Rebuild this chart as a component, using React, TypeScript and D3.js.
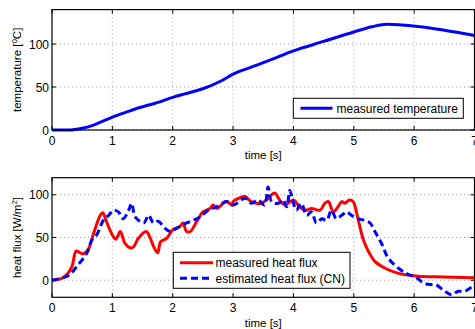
import React, { useEffect, useRef } from "react";
import * as d3 from "d3";

// temperature curve
const tempTime = [0, 0.3, 0.5, 0.7, 0.9, 1.0, 1.2, 1.4, 1.6, 1.8, 2.0, 2.2, 2.5, 2.8, 3.0, 3.3, 3.6, 4.0, 4.5, 5.0, 5.3, 5.55, 5.8, 6.1, 6.5, 7.0];
const tempValue = [0, 0, 2, 6, 12, 15, 20, 25, 29, 33, 38, 42, 48, 57, 65, 73, 81, 92, 103, 114, 120, 123, 122, 120, 116, 110];

// measured heat flux
const fluxTime = [0, 0.15, 0.25, 0.33, 0.4, 0.47, 0.52, 0.6, 0.69, 0.8, 0.84, 0.9, 1.0, 1.06, 1.13, 1.21, 1.29, 1.35, 1.43, 1.56, 1.63, 1.68, 1.75, 1.8, 1.9, 2.0, 2.12, 2.17, 2.23, 2.29, 2.4, 2.5, 2.62, 2.67, 2.73, 2.89, 2.98, 3.0, 3.1, 3.2, 3.3, 3.47, 3.58, 3.69, 3.77, 3.86, 4.0, 4.1, 4.2, 4.3, 4.44, 4.52, 4.58, 4.66, 4.74, 4.8, 4.85, 4.93, 4.99, 5.05, 5.1, 5.16, 5.24, 5.35, 5.52, 5.74, 6.02, 6.35, 7.0];
const fluxValue = [0, 2, 7, 16, 34, 32, 31, 36, 55, 76, 79, 69, 53, 48, 57, 43, 38, 39, 49, 57, 49, 40, 32, 45, 49, 59, 63, 67, 57, 57, 69, 80, 84, 88, 84, 92, 88, 92, 96, 98, 92, 90, 96, 102, 94, 88, 94, 86, 82, 84, 82, 90, 92, 80, 86, 92, 90, 94, 92, 78, 63, 47, 34, 22, 14, 8, 5, 4, 3];

// estimated heat flux (CN)
const estTime = [0, 0.19, 0.3, 0.41, 0.58, 0.66, 0.74, 0.85, 0.94, 1.02, 1.1, 1.18, 1.27, 1.32, 1.38, 1.52, 1.6, 1.68, 1.76, 1.87, 1.96, 2.07, 2.23, 2.34, 2.45, 2.59, 2.73, 2.89, 3.0, 3.2, 3.3, 3.41, 3.52, 3.58, 3.64, 3.75, 3.83, 3.89, 3.94, 4.0, 4.05, 4.13, 4.22, 4.3, 4.38, 4.47, 4.55, 4.63, 4.71, 4.8, 4.88, 4.96, 5.07, 5.18, 5.27, 5.35, 5.46, 5.57, 5.74, 5.9, 6.04, 6.15, 6.26, 6.35, 6.51, 6.62, 6.73, 6.84, 7.0];
const estValue = [0, 3, 7, 16, 32, 47, 53, 70, 76, 82, 80, 72, 82, 90, 74, 67, 76, 67, 69, 61, 57, 61, 67, 70, 74, 82, 86, 92, 88, 96, 90, 94, 88, 109, 92, 90, 94, 86, 105, 90, 82, 90, 76, 80, 67, 72, 70, 82, 72, 76, 80, 76, 72, 70, 67, 57, 43, 26, 14, 7, 3, -3, -5, -5, -13, -17, -13, -13, -5];

const xTicks = [0, 1, 2, 3, 4, 5, 6, 7];
const tempTicks = [0, 50, 100];
const fluxTicks = [0, 50, 100];

const FONT = "'Liberation Sans', Arial, Helvetica, sans-serif";

type Pt = [number, number];

const App: React.FC = () => {
  const ref = useRef<SVGSVGElement>(null);

  useEffect(() => {
    const svg = d3.select(ref.current);
    svg.selectAll("*").remove();

    const x = d3.scaleLinear().domain([0, 7]).range([52, 474.5]);

    function drawPanel(
      y: d3.ScaleLinear<number, number>,
      yTicks: number[],
      labelY: number
    ) {
      const g = svg.append("g");
      const [x0, x1] = x.range();
      const [yb, yt] = y.range();

      // dotted grid
      xTicks.slice(1, -1).forEach((t) => {
        g.append("line")
          .attr("x1", x(t)).attr("x2", x(t)).attr("y1", yt).attr("y2", yb)
          .attr("stroke", "#888").attr("stroke-width", 0.8)
          .attr("stroke-dasharray", "1,3");
      });
      yTicks.forEach((t) => {
        g.append("line")
          .attr("x1", x0).attr("x2", x1).attr("y1", y(t)).attr("y2", y(t))
          .attr("stroke", "#888").attr("stroke-width", 0.8)
          .attr("stroke-dasharray", "1,3");
      });

      // inner ticks
      xTicks.forEach((t) => {
        g.append("line").attr("x1", x(t)).attr("x2", x(t)).attr("y1", yb).attr("y2", yb - 4).attr("stroke", "#000");
        g.append("line").attr("x1", x(t)).attr("x2", x(t)).attr("y1", yt).attr("y2", yt + 4).attr("stroke", "#000");
      });
      yTicks.forEach((t) => {
        g.append("line").attr("x1", x0).attr("x2", x0 + 4).attr("y1", y(t)).attr("y2", y(t)).attr("stroke", "#000");
        g.append("line").attr("x1", x1).attr("x2", x1 - 4).attr("y1", y(t)).attr("y2", y(t)).attr("stroke", "#000");
      });

      // tick labels
      g.selectAll(".xl")
        .data(xTicks)
        .enter()
        .append("text")
        .attr("x", (d) => x(d))
        .attr("y", yb + 14.5)
        .attr("text-anchor", "middle")
        .style("font-family", FONT)
        .style("font-size", "12px")
        .text((d) => d);
      g.selectAll(".yl")
        .data(yTicks)
        .enter()
        .append("text")
        .attr("x", x0 - 3)
        .attr("y", (d) => y(d) + 4.5)
        .attr("text-anchor", "end")
        .style("font-family", FONT)
        .style("font-size", "12px")
        .text((d) => d);

      // x axis label
      g.append("text")
        .attr("x", x(3.5))
        .attr("y", labelY)
        .attr("text-anchor", "middle")
        .style("font-family", FONT)
        .style("font-size", "11.5px")
        .text("time [s]");

      return g;
    }

    function border(y: d3.ScaleLinear<number, number>) {
      const [x0, x1] = x.range();
      const [yb, yt] = y.range();
      svg.append("rect")
        .attr("x", x0).attr("y", yt)
        .attr("width", x1 - x0).attr("height", yb - yt)
        .attr("fill", "none").attr("stroke", "#000").attr("stroke-width", 1.2);
    }

    const lineGen = (y: d3.ScaleLinear<number, number>) =>
      d3.line<Pt>().x((d) => x(d[0])).y((d) => y(d[1]));

    // ---- top panel: temperature
    const yT = d3.scaleLinear().domain([0, 140]).range([130, 9.6]);
    drawPanel(yT, tempTicks, 159);
    const tempPts: Pt[] = tempTime.map((t, i) => [t, tempValue[i]]);
    svg.append("path")
      .attr("d", lineGen(yT).curve(d3.curveMonotoneX)(tempPts) as string)
      .attr("fill", "none").attr("stroke", "#0000ff").attr("stroke-width", 3);
    border(yT);

    const tl = svg.append("text")
      .attr("transform", `translate(21,${yT(70)}) rotate(-90)`)
      .attr("text-anchor", "middle")
      .style("font-family", FONT)
      .style("font-size", "11.5px");
    tl.append("tspan").text("temperature [");
    tl.append("tspan").attr("dy", -4).style("font-size", "8px").text("0");
    tl.append("tspan").attr("dy", 4).text("C]");

    // legend top
    const lg1 = svg.append("g");
    lg1.append("rect").attr("x", 293.3).attr("y", 98.3).attr("width", 170).attr("height", 20)
      .attr("fill", "#fff").attr("stroke", "#000").attr("stroke-width", 1);
    lg1.append("line").attr("x1", 300.5).attr("x2", 332.5).attr("y1", 108.3).attr("y2", 108.3)
      .attr("stroke", "#0000ff").attr("stroke-width", 3);
    lg1.append("text").attr("x", 336.5).attr("y", 112.5).style("font-family", FONT).style("font-size", "12px")
      .text("measured temperature");

    // ---- bottom panel: heat flux
    const yF = d3.scaleLinear().domain([-20, 120]).range([297.3, 177.7]);
    drawPanel(yF, fluxTicks, 327);
    const fluxPts: Pt[] = fluxTime.map((t, i) => [t, fluxValue[i]]);
    const estPts: Pt[] = estTime.map((t, i) => [t, estValue[i]]);
    const clip = svg.append("clipPath").attr("id", "clipF");
    clip.append("rect").attr("x", 52).attr("y", 177.7).attr("width", 422.5).attr("height", 119.6);
    svg.append("path")
      .attr("d", lineGen(yF).curve(d3.curveCatmullRom)(fluxPts) as string)
      .attr("clip-path", "url(#clipF)")
      .attr("fill", "none").attr("stroke", "#ff0000").attr("stroke-width", 3);
    svg.append("path")
      .attr("d", lineGen(yF).curve(d3.curveCatmullRom)(estPts) as string)
      .attr("clip-path", "url(#clipF)")
      .attr("fill", "none").attr("stroke", "#0000ff").attr("stroke-width", 3)
      .attr("stroke-dasharray", "7,4");
    border(yF);

    const fl = svg.append("text")
      .attr("transform", `translate(21,${yF(50)}) rotate(-90)`)
      .attr("text-anchor", "middle")
      .style("font-family", FONT)
      .style("font-size", "11.5px");
    fl.append("tspan").text("heat flux [W/m");
    fl.append("tspan").attr("dy", -4).style("font-size", "8px").text("2");
    fl.append("tspan").attr("dy", 4).text("]");

    // legend bottom
    const lg2 = svg.append("g");
    lg2.append("rect").attr("x", 173.3).attr("y", 252.3).attr("width", 176.7).attr("height", 36)
      .attr("fill", "#fff").attr("stroke", "#000").attr("stroke-width", 1);
    lg2.append("line").attr("x1", 180).attr("x2", 213).attr("y1", 262.7).attr("y2", 262.7)
      .attr("stroke", "#ff0000").attr("stroke-width", 3);
    lg2.append("line").attr("x1", 180).attr("x2", 213).attr("y1", 278.3).attr("y2", 278.3)
      .attr("stroke", "#0000ff").attr("stroke-width", 3).attr("stroke-dasharray", "7,4");
    lg2.append("text").attr("x", 215.5).attr("y", 267).style("font-family", FONT).style("font-size", "12px")
      .text("measured heat flux");
    lg2.append("text").attr("x", 215.5).attr("y", 282.5).style("font-family", FONT).style("font-size", "12px")
      .text("estimated heat flux (CN)");
  }, []);

  return (
    <svg
      ref={ref}
      width={475}
      height={329}
      style={{ position: "absolute", left: 0, top: 0, background: "#fff" }}
    />
  );
};

export default App;
